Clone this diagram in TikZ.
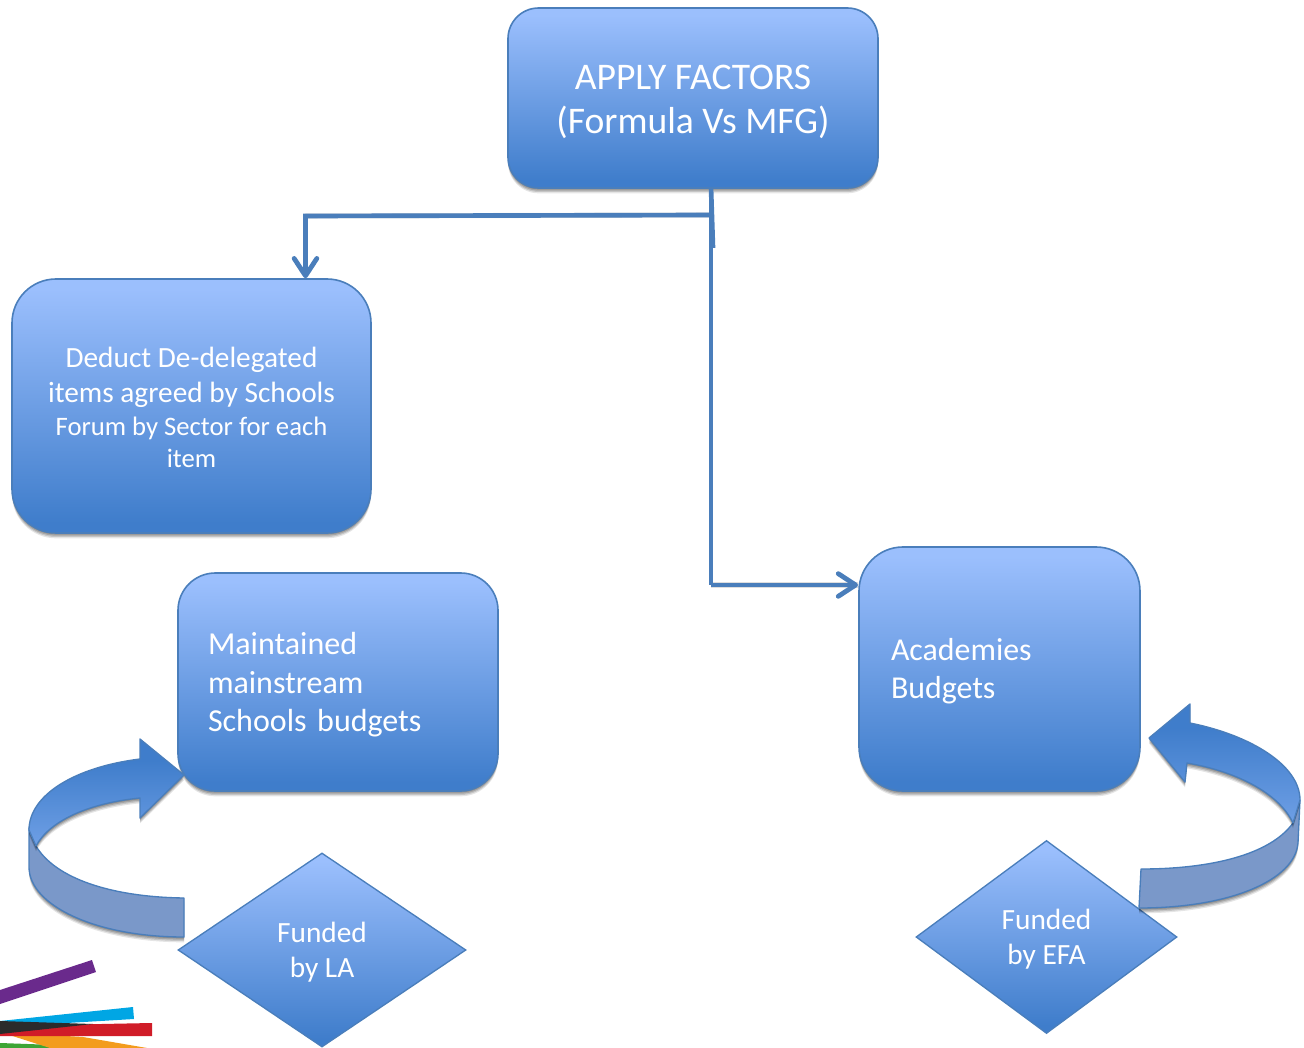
\documentclass[tikz,border=0pt]{standalone}
\usepackage{fontspec}
\setmainfont{Carlito}
\usetikzlibrary{shapes.geometric,shadows,arrows.meta}
\definecolor{boxlight}{HTML}{9BBFFD}
\definecolor{boxdark}{HTML}{3F7DCB}
\definecolor{edgeblue}{HTML}{4A7EBB}
\definecolor{bandblue}{HTML}{7A98C9}
\definecolor{archigh}{HTML}{6E9FE5}
\definecolor{strokepurple}{HTML}{6A2A8C}
\definecolor{strokecyan}{HTML}{00A6E4}
\definecolor{strokered}{HTML}{D01C28}
\definecolor{strokeorange}{HTML}{F39C1E}
\definecolor{strokegreen}{HTML}{3DA535}
\definecolor{strokeblack}{HTML}{2B2B2B}
\pgfdeclareverticalshading{boxshade}{100bp}{color(0bp)=(boxdark); color(27bp)=(boxdark); color(73bp)=(boxlight); color(100bp)=(boxlight)}
\pgfdeclareverticalshading{arcshade}{100bp}{color(0bp)=(archigh); color(25bp)=(archigh); color(65bp)=(boxdark); color(100bp)=(boxdark)}
\newcommand{\dropfirst}[1]{\rule{0pt}{#1}}
\tikzset{
  softshadow/.style={
    drop shadow={shadow xshift=0pt,shadow yshift=-1pt,opacity=.16,fill=black},
    drop shadow={shadow xshift=0pt,shadow yshift=-2pt,opacity=.16,fill=black},
    drop shadow={shadow xshift=0pt,shadow yshift=-3pt,opacity=.14,fill=black},
    drop shadow={shadow xshift=0pt,shadow yshift=-4pt,opacity=.10,fill=black}},
  flowbox/.style={softshadow,shading=boxshade,draw=edgeblue,line width=1.2pt,text=white,inner sep=0pt},
  centerbox/.style={flowbox,align=center},
  flowdiamond/.style={diamond,shading=boxshade,draw=edgeblue,line width=1pt,text=white,inner sep=0pt,align=center,
    font=\fontsize{22}{26.5}\selectfont},
  link/.style={draw=edgeblue,line width=3.5pt,line cap=butt},
  linkshadow/.style={draw=black,opacity=.13,line width=3.8pt},
  arrowlink/.style={link,-{Straight Barb[round,length=13pt,width=17pt,line width=3.6pt]}},
  arcface/.style={shading=arcshade,draw=edgeblue,line width=1pt,line join=round},
  arcband/.style={fill=bandblue,draw=edgeblue,line width=1pt,line join=round}
}
\begin{document}
\begin{tikzpicture}[x=0.75pt,y=-0.75pt]
\useasboundingbox (0,0) rectangle (1304,1048);
% colour strokes, bottom left
\begin{scope}
\clip (0,0) rectangle (1304,1048);
\fill[strokegreen] (0,1043) -- (55,1045) -- (70,1048) -- (0,1048) -- cycle;
\fill[strokeorange] (0,1032) -- (83,1037) -- (147,1048) -- (50,1048) -- cycle;
\fill[strokecyan] (0,1021) -- (133,1007) -- (134,1019) -- (0,1027) -- cycle;
\fill[strokered] (0,1026) -- (152,1023) -- (152,1036) -- (0,1036) -- cycle;
\fill[strokeblack] (0,1021) -- (93,1024) -- (0,1034) -- cycle;
\fill[strokepurple] (0,990) -- (92,960) -- (96,972) -- (0,1004) -- cycle;
\end{scope}
% boxes
\node[centerbox,rounded corners=23pt,minimum width=370*0.75pt,minimum height=180*0.75pt,
  font=\fontsize{28.2}{33.5}\selectfont] (top) at (693,98) {\dropfirst{24pt}APPLY FACTORS\\(Formula Vs MFG)};
\node[centerbox,rounded corners=33pt,minimum width=359*0.75pt,minimum height=254*0.75pt,
  font=\fontsize{22}{26.2}\selectfont] (ded) at (191.5,406)
  {\dropfirst{17pt}Deduct De-delegated\\items agreed by Schools\\[-1.5pt]\fontsize{20}{24}\selectfont Forum by Sector for each\\[-2.25pt]\fontsize{20}{24}\selectfont item};
\node[flowbox,rounded corners=28pt,minimum width=320*0.75pt,minimum height=218*0.75pt,
  text width=260*0.75pt,align=left,font=\fontsize{24}{29}\selectfont] (main) at (338,682)
  {\dropfirst{21pt}Maintained\\mainstream\\Schools budgets};
\node[flowbox,rounded corners=33pt,minimum width=281*0.75pt,minimum height=244*0.75pt,
  text width=217*0.75pt,align=left,font=\fontsize{23.9}{28.5}\selectfont] (acad) at (999.5,669)
  {\dropfirst{20pt}Academies\\Budgets};
% diamonds
\node[flowdiamond,minimum width=288*0.75pt,minimum height=194*0.75pt,aspect=1.48] (la) at (322,950) {\dropfirst{19pt}Funded\\by LA};
\node[flowdiamond,minimum width=261*0.75pt,minimum height=193*0.75pt,aspect=1.35] (efa) at (1046.5,937) {\dropfirst{19pt}Funded\\by EFA};
% connectors
\coordinate (stemtop) at (711,187);
\coordinate (stemlow) at (711,585);
\coordinate (stubend) at (713,248);
\coordinate (branch) at (711,215);
\coordinate (corner) at (305.5,216);
\coordinate (acadin) at (858,585);
\draw[linkshadow,yshift=-2pt] (branch) -- (corner);
\draw[linkshadow,yshift=-2pt] (stemlow) -- (acadin);
\draw[link] (stemtop) -- (stubend);
\draw[link] (stemtop) -- (stemlow);
\draw[arrowlink] (stemlow) -- (acadin);
\draw[arrowlink,line join=miter] (branch) -- (corner) -- (ded.north -| corner);
% left curved arrow
\path[softshadow,arcband] (29,828) -- (29,867) .. controls (29,905) and (95,937) .. (184,937)
  -- (184,898) .. controls (110,897) and (55,878) .. (36,846) -- cycle;
\path[softshadow,arcface] (184,775) -- (140,739) -- (140,759) .. controls (75,767) and (29,795) .. (29,830)
  -- (36,846) .. controls (50,820) and (90,803) .. (140,798) -- (140,818) -- cycle;
% right curved arrow
\path[softshadow,arcband] (1300,800) -- (1298,843) .. controls (1295,880) and (1230,908) .. (1139,908)
  -- (1141,869) .. controls (1210,869) and (1270,855) .. (1293,823) -- cycle;
\path[softshadow,arcface] (1149,738) -- (1190,704) -- (1190,723) .. controls (1250,735) and (1300,765) .. (1300,800)
  -- (1293,823) .. controls (1280,795) and (1240,772) .. (1187,763) -- (1185,782) -- cycle;
\end{tikzpicture}
\end{document}
